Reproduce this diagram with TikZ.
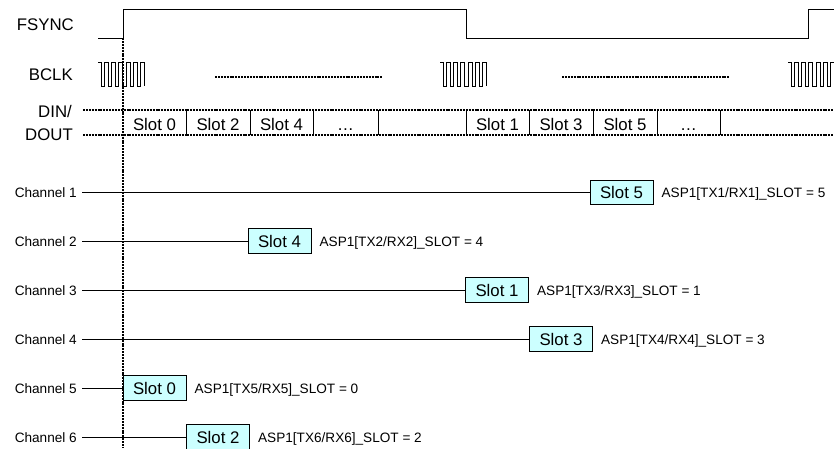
\documentclass[tikz,border=0pt]{standalone}
\usepackage{fontspec}
\setmainfont{Liberation Sans}
\definecolor{slotfill}{RGB}{204,255,255}
\newcommand{\bclkwave}[1]{%
  \draw[sig] (#1,62) -- ++(3,0)
    \foreach \i in {1,...,6} { -- ++(0,24) -- ++(3.3,0) -- ++(0,-24) -- ++(4,0) } -- ++(0,24);}
\begin{document}
\begin{tikzpicture}[x=1pt,y=-1pt,
  sig/.style={line width=0.9pt},
  dotline/.style={line width=2.4pt, dash pattern=on 2pt off 0.9pt},
  biglbl/.style={font=\fontsize{16.8}{18}\selectfont, inner sep=0pt},
  chlbl/.style={font=\fontsize{13.6}{15}\selectfont, inner sep=0pt, anchor=base east},
  slotbox/.style={draw, line width=0.9pt, fill=slotfill, minimum width=63pt, minimum height=24.5pt, inner sep=0pt, font=\fontsize{16.8}{18}\selectfont},
  asp/.style={font=\fontsize{13.6}{15}\selectfont, inner sep=0pt, anchor=base west},
  slottxt/.style={font=\fontsize{16.8}{18}\selectfont, inner sep=0pt, anchor=base},
]
\useasboundingbox (0,0) rectangle (834,448);
\clip (0,0) rectangle (834,448);

% signal labels
\node[biglbl, anchor=east] (fsync) at (74,25) {FSYNC};
\node[biglbl, anchor=east] (bclk) at (73,75) {BCLK};
\node[biglbl, anchor=base east] (din) at (72,117) {DIN/};
\node[biglbl, anchor=base east] (dout) at (73,140) {DOUT};

% FSYNC waveform
\draw[sig] (98,38) -- (123,38) -- (123,9) -- (466,9) -- (466,38) -- (808,38) -- (808,9) -- (834,9);

% BCLK waveforms
\bclkwave{98}
\bclkwave{440}
\bclkwave{788}
\draw[dotline] (215,77) -- (382,77);
\draw[dotline] (562,77) -- (730,77);

% DIN/DOUT bus
\draw[dotline] (83,110) -- (834,110);
\draw[dotline] (83,135) -- (834,135);
\foreach \x in {186,250,313,378,466,529,593,657,720}
  \draw[sig] (\x,110) -- (\x,135);
\node[slottxt] (d0) at (154.5,130.5) {Slot 0};
\node[slottxt] (d2) at (218,130.5) {Slot 2};
\node[slottxt] (d4) at (281.5,130.5) {Slot 4};
\node[slottxt] (de1) at (345.5,130.5) {…};
\node[slottxt] (d1) at (497.5,130.5) {Slot 1};
\node[slottxt] (d3) at (561,130.5) {Slot 3};
\node[slottxt] (d5) at (625,130.5) {Slot 5};
\node[slottxt] (de2) at (688.5,130.5) {…};

% channel labels
\node[chlbl] (ch1) at (77,197.3) {Channel 1};
\node[chlbl] (ch2) at (77,246) {Channel 2};
\node[chlbl] (ch3) at (77,295) {Channel 3};
\node[chlbl] (ch4) at (77,344) {Channel 4};
\node[chlbl] (ch5) at (77,393) {Channel 5};
\node[chlbl] (ch6) at (77,442) {Channel 6};

% slot boxes
\node[slotbox] (s1) at (621.5,192.3) {Slot 5};
\node[slotbox] (s2) at (279.5,241) {Slot 4};
\node[slotbox] (s3) at (497,290) {Slot 1};
\node[slotbox] (s4) at (561,339) {Slot 3};
\node[slotbox] (s5) at (154.5,388) {Slot 0};
\node[slotbox] (s6) at (218,437) {Slot 2};

% connectors
\foreach \k in {1,...,6}
  \draw[sig] ([xshift=5pt]ch\k.east |- s\k.west) -- (s\k.west);

% register texts
\node[asp] (a1) at ([xshift=8pt,yshift=-5pt]s1.east) {ASP1[TX1/RX1]\_SLOT = 5};
\node[asp] (a2) at ([xshift=8pt,yshift=-5pt]s2.east) {ASP1[TX2/RX2]\_SLOT = 4};
\node[asp] (a3) at ([xshift=8pt,yshift=-5pt]s3.east) {ASP1[TX3/RX3]\_SLOT = 1};
\node[asp] (a4) at ([xshift=8pt,yshift=-5pt]s4.east) {ASP1[TX4/RX4]\_SLOT = 3};
\node[asp] (a5) at ([xshift=8pt,yshift=-5pt]s5.east) {ASP1[TX5/RX5]\_SLOT = 0};
\node[asp] (a6) at ([xshift=8pt,yshift=-5pt]s6.east) {ASP1[TX6/RX6]\_SLOT = 2};

% frame sync reference line
\coordinate (vtop) at (123,38);
\coordinate (vbot) at (123,448);
\draw[dotline] (vtop) -- (vbot);
\end{tikzpicture}
\end{document}
